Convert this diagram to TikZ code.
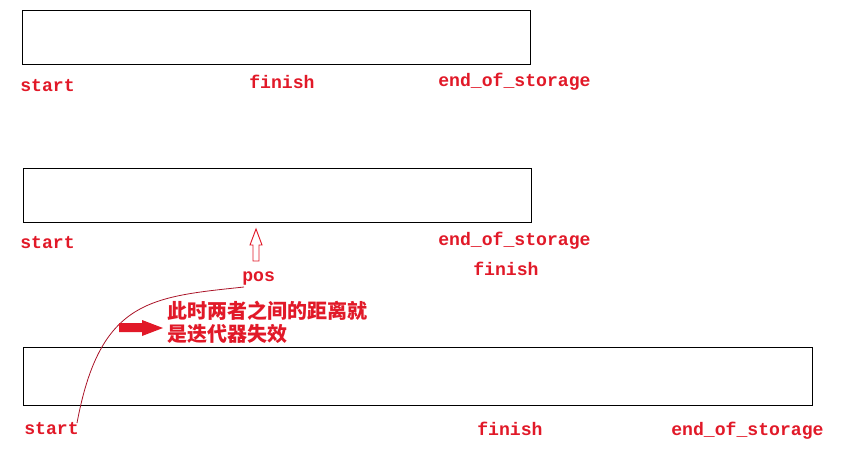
\documentclass[tikz,border=0pt]{standalone}
\usepackage{fontspec}
\setmonofont{Liberation Mono}
\newfontfamily\cjk{Noto Sans CJK SC}
\definecolor{lblred}{RGB}{225,25,40}
\definecolor{curvered}{RGB}{170,20,40}
\begin{document}
\begin{tikzpicture}[x=0.75pt,y=-0.75pt,
  box/.style={draw=black,line width=0.75pt},
  lbl/.style={text=lblred,font=\fontsize{13.6}{16}\selectfont\ttfamily\bfseries,anchor=base west,inner sep=0pt},
  cn/.style={text=lblred,font=\fontsize{15}{18}\selectfont\cjk\bfseries,anchor=west,inner sep=0pt}]
\useasboundingbox (0,0) rectangle (841,449);
% boxes
\draw[box] (22,11) rectangle (530,65);
\draw[box] (23,168) rectangle (531,222);
\draw[box] (23,347) rectangle (812,405);
% row 1 labels
\node[lbl] (s1) at (20,92) {start};
\node[lbl] (f1) at (249,89) {finish};
\node[lbl] (e1) at (438,87) {end\_of\_storage};
% row 2 labels
\node[lbl] (s2) at (20,248) {start};
\node[lbl] (e2) at (438,245) {end\_of\_storage};
\node[lbl] (f2) at (473,275) {finish};
\node[lbl] (pos) at (242,281) {pos};
% row 3 labels
\node[lbl] (s3) at (24,434) {start};
\node[lbl] (f3) at (477,435) {finish};
\node[lbl] (e3) at (671,435) {end\_of\_storage};
% hollow up arrow
\draw[lblred,line width=0.7pt] (256,229) -- (262,245) -- (259,245) -- (259,261) -- (253,261) -- (253,245) -- (250,245) -- cycle;
% curve from pos to start
\coordinate (c0) at (244,287);
\coordinate (c1) at (77,423);
\draw[curvered,line width=0.6pt] (c0) .. controls (150,297) and (100,300) .. (c1);
% thick red arrow
\fill[lblred] (119,323) -- (142,323) -- (142,320) -- (163,328) -- (142,336) -- (142,332) -- (119,332) -- cycle;
% chinese text
\node[cn] (t1) at (167,311) {此时两者之间的距离就};
\node[cn] (t2) at (167,334) {是迭代器失效};
\end{tikzpicture}
\end{document}
